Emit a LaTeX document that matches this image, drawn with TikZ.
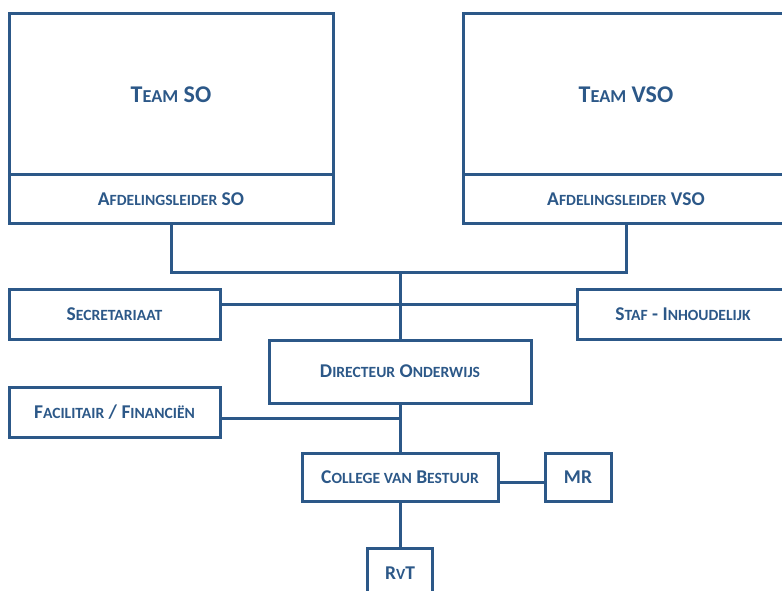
\documentclass[tikz,border=0pt]{standalone}
\usepackage{fontspec}
\setmainfont{Carlito}
\usepackage{graphicx}
\definecolor{org}{RGB}{44,88,136}
\newcommand\sm[1]{\scalebox{0.8}{#1}}
\newcommand\smb[1]{\scalebox{0.76}{#1}}
\begin{document}
\begin{tikzpicture}[x=1pt,y=-1pt,
  box/.style={draw=org, line width=3pt, rectangle, inner sep=0pt, text=org, font=\fontsize{19.5}{22}\selectfont\bfseries},
  big/.style={box, font=\fontsize{24}{28}\selectfont\bfseries},
  conn/.style={draw=org, line width=3pt}]
\useasboundingbox (0,0) rectangle (782,591);
\clip (0,0) rectangle (782,591);
\node[big, minimum width=324pt, minimum height=161pt] (teamso) at (171,94.5) {T\smb{EAM} SO};
\node[box, minimum width=324pt, minimum height=48pt] (afdso) at (171,199) {A\sm{FDELINGSLEIDER} SO};
\node[big, minimum width=326pt, minimum height=161pt] (teamvso) at (626,94.5) {T\smb{EAM} VSO};
\node[box, minimum width=326pt, minimum height=48pt] (afdvso) at (626,199) {A\sm{FDELINGSLEIDER} VSO};
\node[box, minimum width=211pt, minimum height=50pt] (secr) at (114.5,314) {S\sm{ECRETARIAAT}};
\node[box, minimum width=212pt, minimum height=50pt] (staf) at (683,314) {S\sm{TAF} - I\sm{NHOUDELIJK}};
\node[box, minimum width=262pt, minimum height=63pt] (dir) at (400,371.5) {D\sm{IRECTEUR} O\sm{NDERWIJS}};
\node[box, minimum width=211pt, minimum height=50pt] (fac) at (114.5,412) {F\sm{ACILITAIR} / F\sm{INANCIËN}};
\node[box, minimum width=196pt, minimum height=48pt] (cvb) at (400,477) {C\sm{OLLEGE VAN} B\sm{ESTUUR}};
\node[box, minimum width=66pt, minimum height=48pt] (mr) at (578,477) {MR};
\node[box, minimum width=65pt, minimum height=50pt] (rvt) at (400,573) {R\sm{V}T};
\coordinate (j1) at (400,272);
\coordinate (j2) at (400,304);
\coordinate (j3) at (400,418);
\coordinate (j4) at (400,482);
\draw[conn] (afdso.south) |- (j1) -| (afdvso.south);
\draw[conn] (j1) -- (dir.north);
\draw[conn] (secr.east |- j2) -- (staf.west |- j2);
\draw[conn] (fac.east |- j3) -- (j3);
\draw[conn] (dir.south) -- (cvb.north);
\draw[conn] (cvb.east |- j4) -- (mr.west |- j4);
\draw[conn] (cvb.south) -- (rvt.north);
\end{tikzpicture}
\end{document}
